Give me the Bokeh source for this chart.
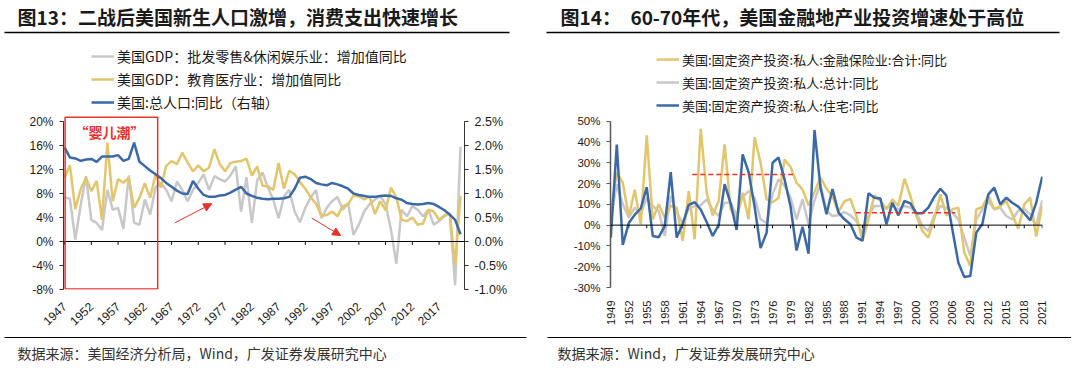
import math
from bokeh.plotting import figure
from bokeh.models import (Range1d, LinearAxis, FixedTicker, PrintfTickFormatter, Label,
                          BoxAnnotation, Legend, LegendItem, Arrow, NormalHead, Span)
from bokeh.layouts import row, column
from bokeh.embed import file_html
from bokeh.resources import INLINE

# ---------------- data: left chart (图13) ----------------
years_l = list(range(1947, 2022))
gdp_retail = [7.4, 7.1, 0.3, 6.0, 10.9, 3.6, 3.1, 1.9, 8.6, 5.3,
              5.6, 2.1, 11.0, 3.1, 2.8, 7.0, 4.5, 9.0, 9.8, 8.6,
              6.7, 10.0, 8.6, 6.7, 8.6, 9.8, 11.2, 8.6, 10.9, 10.4,
              10.0, 11.0, 12.5, 5.0, 10.7, 3.1, 10.2, 11.5, 9.0, 7.0,
              3.9, 7.5, 8.6, 5.0, 3.2, 5.6, 7.3, 8.6, 3.9, 5.6,
              6.7, 7.4, 5.3, 6.4, 1.1, 2.8, 5.0, 6.2, 7.0, 7.6,
              6.2, 2.0, -3.7, 5.3, 4.2, 5.9, 5.3, 4.2, 5.3, 2.8,
              3.4, 4.2, 4.7, -7.3, 15.8]
gdp_edu = [10.6, 12.7, 5.4, 8.7, 10.6, 8.4, 10.1, 3.6, 16.5, 6.7,
           10.4, 9.8, 10.6, 5.6, 7.3, 9.7, 7.3, 11.2, 9.0, 12.6,
           13.4, 12.9, 14.8, 13.2, 11.7, 12.7, 11.7, 12.3, 15.4, 12.9,
           11.7, 13.1, 13.3, 13.4, 13.8, 11.0, 12.5, 9.3, 9.2, 8.6,
           13.1, 8.8, 11.8, 11.2, 9.9, 8.8, 7.4, 6.3, 4.3, 4.4,
           5.0, 4.2, 5.9, 6.2, 7.7, 7.5, 7.0, 7.5, 4.6, 6.7,
           5.2, 9.0, 7.4, 3.6, 3.4, 4.0, 2.8, 3.0, 5.3, 5.0,
           3.6, 4.4, 4.7, -3.9, 7.6]
pop_growth = [1.96, 1.75, 1.73, 1.68, 1.71, 1.72, 1.66, 1.77, 1.77, 1.77,
              1.80, 1.68, 1.72, 2.06, 1.66, 1.57, 1.48, 1.40, 1.32, 1.22,
              1.14, 1.06, 1.00, 0.99, 1.26, 1.10, 0.97, 0.93, 0.93, 0.96,
              0.97, 1.02, 1.08, 1.14, 1.00, 0.95, 0.91, 0.89, 0.88, 0.89,
              0.89, 0.90, 0.93, 1.10, 1.33, 1.35, 1.30, 1.22, 1.19, 1.17,
              1.22, 1.19, 1.15, 1.10, 1.00, 0.97, 0.95, 0.93, 0.93, 0.95,
              0.96, 0.95, 0.90, 0.87, 0.80, 0.78, 0.77, 0.78, 0.80, 0.78,
              0.72, 0.65, 0.56, 0.45, 0.15]
ticks_l = list(range(1947, 2018, 5))
yticks_l = [-8, -4, 0, 4, 8, 12, 16, 20]
yticks_r = [-1.0, -0.5, 0.0, 0.5, 1.0, 1.5, 2.0, 2.5]

# annotations (data units)
boom_box = dict(left=1947.1, right=1964.4, bottom=-7.9, top=20.7)
boom_text = dict(x=1955.4, y=18.2, text="“婴儿潮”")
arrow1 = dict(x_start=1967.6, y_start=3.1, x_end=1974.5, y_end=6.3)
arrow2 = dict(x_start=1993.2, y_start=3.9, x_end=1998.6, y_end=1.0)

# ---------------- data: right chart (图14) ----------------
years_r = list(range(1949, 2022))
inv_fin = [7.0, 25.2, 20.4, 4.0, 17.0, 0.5, 43.2, 2.8, 10.0, 3.6,
           9.2, 8.4, -7.6, 16.4, -6.8, 46.3, 15.6, 4.7, 11.6, 38.8,
           7.6, 2.8, 15.6, 2.8, 42.3, 30.0, 12.4, 11.0, 13.0, 31.6,
           28.0, 20.4, 17.2, 9.5, 16.0, 22.8, 17.6, 13.6, 6.4, 11.5,
           12.6, 4.4, -7.6, 2.8, 14.3, 11.6, 7.6, 12.4, 9.2, 22.3,
           14.0, 4.4, -2.8, -6.0, 3.1, 14.8, 4.7, 7.6, 8.4, -13.2,
           -19.6, 7.6, 8.7, 14.3, 7.6, 9.2, 11.6, 5.2, -1.7, 10.0,
           13.2, -5.5, 9.2]
inv_total = [3.0, 19.6, 10.0, 3.6, 8.4, 5.2, 13.2, 9.2, 6.8, -5.2,
             14.0, 6.0, 1.2, 7.6, 9.2, 9.5, 12.4, 7.6, 4.4, 10.8,
             10.8, 4.7, 13.6, 16.4, 13.2, 2.8, 1.0, 14.8, 22.0, 19.0,
             13.2, 2.8, 12.4, 0.5, 12.0, 19.6, 6.8, 4.4, 4.7, 6.3,
             4.7, 2.0, -3.9, 4.4, 9.2, 9.2, 8.4, 9.2, 7.6, 9.2,
             8.4, 6.0, -0.4, -2.8, 4.7, 9.2, 8.4, 6.0, 2.8, -6.0,
             -14.8, 2.8, 7.6, 11.6, 7.6, 8.4, 4.4, 2.8, 6.8, 7.6,
             5.2, -0.4, 12.0]
inv_resi = [-6.0, 38.8, -9.5, 1.0, 5.0, 8.0, 18.3, -5.2, -5.8, -0.5,
            25.5, -6.0, 0.5, 9.7, 11.0, 7.5, 1.5, -5.2, 0.0, 19.7,
            10.5, -2.3, 34.0, 25.5, 9.0, -11.0, -3.7, 30.0, 32.5, 22.0,
            9.0, -12.2, -0.8, -13.7, 45.7, 18.0, 5.2, 17.3, 6.0, 2.8,
            0.4, -6.0, -7.5, 15.3, 13.2, 12.8, 0.4, 10.8, 4.7, 11.6,
            10.5, 5.7, 5.7, 8.4, 13.7, 17.5, 14.3, -2.0, -18.0, -25.0,
            -24.5, -3.6, 0.4, 14.8, 18.0, 10.0, 13.2, 10.8, 8.9, 5.7,
            2.3, 10.8, 23.3]
ticks_r = list(range(1949, 2022, 3))
yticks_r2 = [-30, -20, -10, 0, 10, 20, 30, 40, 50]
dash_x0 = [1962.6, 1989.9]
dash_x1 = [1979.4, 2006.5]
dash_y = [24.4, 6.0]

# ---------------- styles ----------------
BLUE = "#3b69a7"
GOLD = "#e3c66c"
GRAY = "#c8c8c8"
RED = "#e8322d"
TXT = "#1a1a1a"
CJK = "Noto Sans CJK SC"
LAT = "Liberation Sans"
O = 1          # page offset of the canvas
W_ALL = 1071


def canvas_fig(w, h, y0):
    """figure whose frame is the whole canvas, data units = page pixels"""
    p = figure(output_backend="svg", toolbar_location=None, width=w, height=h,
               x_range=Range1d(O, O + w), y_range=Range1d(y0 + h, y0),
               x_axis_type=None, y_axis_type=None, min_border=0,
               outline_line_color=None, background_fill_color="white",
               border_fill_color="white")
    p.xgrid.visible = False
    p.ygrid.visible = False
    return p


def rule(fig, x0, x1, y, w=1.5, color="black"):
    fig.add_layout(BoxAnnotation(left=x0, right=x1, top=y - w / 2, bottom=y + w / 2,
                                 fill_color=color, fill_alpha=1, line_alpha=0))


def text(fig, x, y, s, size, bold=False, color=TXT, font=CJK):
    fig.add_layout(Label(x=x, y=y, text=s, text_font=font, text_font_size=size,
                         text_color=color, text_font_style="bold" if bold else "normal",
                         text_baseline="middle", text_align="left"))


def chart_fig(x_range, y_range, ml, fw, mr, fh, mb):
    p = figure(output_backend="svg", toolbar_location=None, x_range=x_range, y_range=y_range,
               frame_width=fw, frame_height=fh, min_border_left=ml, min_border_right=mr,
               min_border_top=0, min_border_bottom=mb, background_fill_color="white",
               border_fill_color="white", outline_line_color=None)
    p.xgrid.visible = False
    p.ygrid.visible = False
    return p


def style_yaxis(ax, ticks, fmt, size, color="#333333", width=1):
    ax.ticker = FixedTicker(ticks=ticks)
    ax.formatter = PrintfTickFormatter(format=fmt)
    ax.axis_line_color = color
    ax.axis_line_width = width
    ax.major_tick_line_color = color
    ax.major_tick_out = 4
    ax.major_tick_in = 0
    ax.minor_tick_line_color = None
    ax.major_label_standoff = 6
    ax.major_label_text_font = LAT
    ax.major_label_text_font_size = size
    ax.major_label_text_color = TXT


def style_xaxis(ax, ticks, orient, standoff, size):
    ax.ticker = FixedTicker(ticks=ticks)
    ax.axis_line_color = None
    ax.major_tick_line_color = None
    ax.minor_tick_line_color = None
    ax.major_label_orientation = orient
    ax.major_label_standoff = standoff
    ax.major_label_text_font = LAT
    ax.major_label_text_font_size = size
    ax.major_label_text_color = TXT


TOP = 41      # page y where charts start
BOT = 334     # page y where charts end
END = 366     # page y where the footer ends

# ================= header =================
head = canvas_fig(W_ALL, TOP - O, O)
text(head, 18, 17, "图13：二战后美国新生人口激增，消费支出快速增长", "19px", bold=True)
text(head, 561, 17, "图14：　60-70年代，美国金融地产业投资增速处于高位", "19px", bold=True)
rule(head, 5, 510, 33)
rule(head, 547, 1060, 33)

# ================= left chart =================
FB1 = 290
p1 = chart_fig(Range1d(1946.8, 2021.75), Range1d(-8, 33.5), 63, 401, 75, FB1 - TOP, BOT - FB1)
p1.extra_y_ranges = {"pop": Range1d(-1, 33.5 / 8)}
style_xaxis(p1.xaxis[0], ticks_l, 0.75, 9, "12px")
style_yaxis(p1.yaxis[0], yticks_l, "%d%%", "12px")
p1.yaxis[0].bounds = (-8, 20)
ya2 = LinearAxis(y_range_name="pop", bounds=(-1, 2.5))
style_yaxis(ya2, yticks_r, "%.1f%%", "12.5px")
p1.add_layout(ya2, "right")

p1.add_layout(Span(location=0, dimension="width", line_color="black", line_width=1))
p1.segment(x0=ticks_l, y0=[0] * len(ticks_l), x1=ticks_l, y1=[-0.55] * len(ticks_l),
           line_color="black", line_width=1)

r_g = p1.line(years_l, gdp_retail, line_color=GRAY, line_width=2.5)
r_e = p1.line(years_l, gdp_edu, line_color=GOLD, line_width=2.5)
r_p = p1.line(years_l, pop_growth, line_color=BLUE, line_width=2.5, y_range_name="pop")

p1.add_layout(BoxAnnotation(**boom_box, fill_alpha=0, line_color=RED, line_alpha=1,
                            line_width=1.5))
p1.add_layout(Label(**boom_text, text_color=RED, text_font=CJK, text_font_size="14px",
                    text_font_style="bold", text_align="center", text_baseline="middle"))
for a in (arrow1, arrow2):
    p1.add_layout(Arrow(**a, line_color=RED, line_width=1,
                        end=NormalHead(size=8, fill_color=RED, line_color=RED)))

leg1 = Legend(items=[LegendItem(label="美国GDP：批发零售&休闲娱乐业：增加值同比", renderers=[r_g]),
                     LegendItem(label="美国GDP：教育医疗业：增加值同比", renderers=[r_e]),
                     LegendItem(label="美国:总人口:同比（右轴）", renderers=[r_p])],
              location=(92 - 64, FB1 - 113), orientation="vertical",
              glyph_width=23, glyph_height=20, label_height=20, label_standoff=3,
              spacing=3, padding=0, margin=0, border_line_alpha=0, background_fill_alpha=0,
              label_text_font=CJK, label_text_font_size="14px", label_text_color=TXT)
p1.add_layout(leg1)

# ================= right chart =================
FB2 = 288
p2 = chart_fig(Range1d(1948.95, 2021.05), Range1d(-30, 88.8), 71, 432, 29, FB2 - TOP, BOT - FB2)
style_xaxis(p2.xaxis[0], ticks_r, math.pi / 2, 7, "11px")
style_yaxis(p2.yaxis[0], yticks_r2, "%d%%", "11.5px", color="#595959", width=1.5)
p2.yaxis[0].bounds = (-30, 50)

p2.add_layout(Span(location=0, dimension="width", line_color="black", line_width=1))
p2.segment(x0=ticks_r, y0=[0] * len(ticks_r), x1=ticks_r, y1=[-1.5] * len(ticks_r),
           line_color="black", line_width=1)

s_t = p2.line(years_r, inv_total, line_color=GRAY, line_width=2.5)
s_f = p2.line(years_r, inv_fin, line_color=GOLD, line_width=2.5)
s_r = p2.line(years_r, inv_resi, line_color=BLUE, line_width=2.5)
p2.segment(x0=dash_x0, y0=dash_y, x1=dash_x1, y1=dash_y, line_color=RED,
           line_width=1.5, line_dash="5 3")

leg2 = Legend(items=[LegendItem(label="美国:固定资产投资:私人:金融保险业:合计:同比", renderers=[s_f]),
                     LegendItem(label="美国:固定资产投资:私人:总计:同比", renderers=[s_t]),
                     LegendItem(label="美国:固定资产投资:私人:住宅:同比", renderers=[s_r])],
              location=(657 - 611, FB2 - 116), orientation="vertical",
              glyph_width=23, glyph_height=20, label_height=20, label_standoff=3,
              spacing=3, padding=0, margin=0, border_line_alpha=0, background_fill_alpha=0,
              label_text_font=CJK, label_text_font_size="13px", label_text_color=TXT)
p2.add_layout(leg2)

# ================= footer =================
foot = canvas_fig(W_ALL, END - BOT, BOT)
rule(foot, 5, 527, 338, w=1.2)
rule(foot, 548, 1072, 338, w=1.2)
text(foot, 18, 353, "数据来源：美国经济分析局，Wind，广发证券发展研究中心", "14px", color="#333333")
text(foot, 558, 353, "数据来源：Wind，广发证券发展研究中心", "14px", color="#333333")

layout = column(head, row(p1, p2, spacing=0), foot, spacing=0)
open("out.html", "w").write(file_html(layout, INLINE))
